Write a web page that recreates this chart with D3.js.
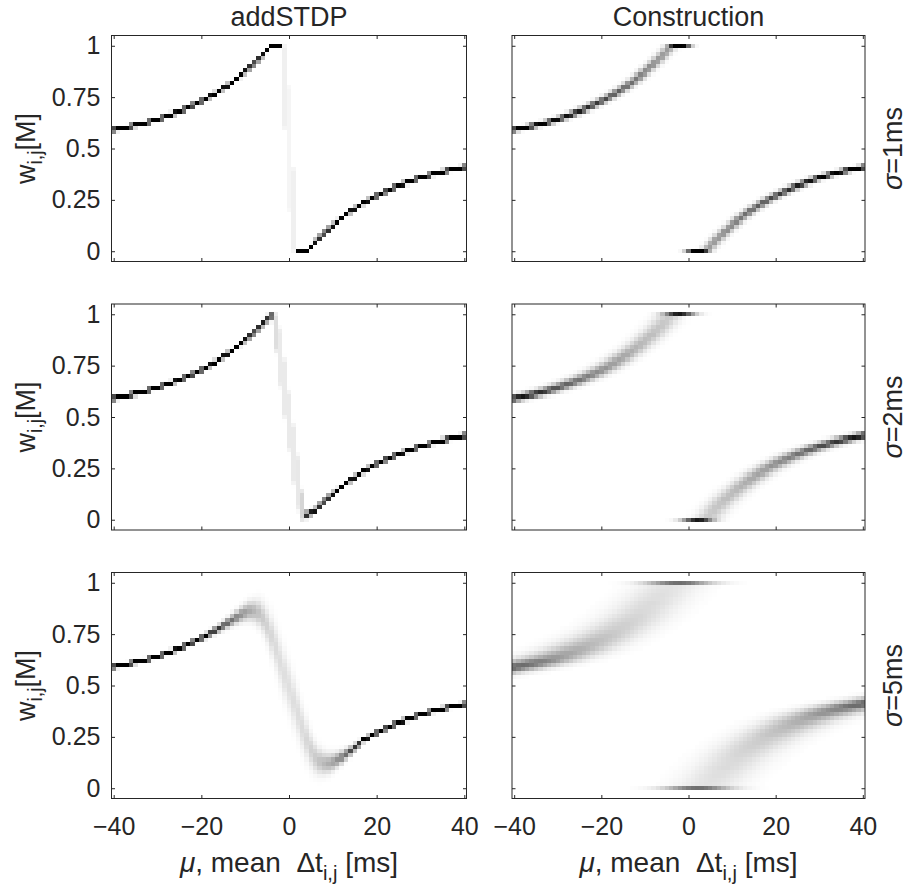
<!DOCTYPE html>
<html><head><meta charset="utf-8">
<script src="https://cdn.jsdelivr.net/npm/d3@7"></script>
<style>
body{margin:0;background:#fff}
text{font-family:"Liberation Sans",Arial,Helvetica,sans-serif;fill:#262626}
</style></head>
<body><svg id="chart" width="908" height="890"></svg>
<script>
// ---------------- data ----------------
const columnTitles = ["addSTDP", "Construction"];
const rowSigmas = [1, 2, 5];
const rowSigmaText = ["=1ms", "=2ms", "=5ms"];
const xTickValues = [-40, -20, 0, 20, 40];
const yTickValues = [0, 0.25, 0.5, 0.75, 1];
const yTickLabels = ["0", "0.25", "0.5", "0.75", "1"];
const muValues = d3.range(-40, 41);          // columns, 1 ms each
const wBinCenters = d3.range(0, 51).map(i => i * 0.02); // rows, 0.02 each

// fixed-point weight curve, Δt = -40 .. 0
const fUpper = [0.591,0.595,0.600,0.604,0.609,0.614,0.619,0.624,0.630,0.636,
  0.643,0.650,0.658,0.665,0.673,0.681,0.690,0.699,0.709,0.719,
  0.730,0.741,0.753,0.766,0.778,0.793,0.807,0.822,0.838,0.855,
  0.873,0.892,0.911,0.932,0.953,0.976,1.000,1.000,1.000,1.000,1.000];
// Δt = 0 .. 40
const fLower = [0.000,0.000,0.000,0.000,0.000,0.024,0.047,0.068,0.089,0.108,
  0.127,0.145,0.162,0.178,0.193,0.207,0.221,0.234,0.247,0.259,
  0.270,0.281,0.291,0.301,0.310,0.319,0.327,0.335,0.342,0.350,
  0.357,0.363,0.369,0.375,0.381,0.386,0.391,0.396,0.400,0.405,0.409];

// addSTDP: columns that leave the fixed-point curve (centre, half-width, blur)
const stdpMu1 = [-1, 0, 1];
const stdpW1 = [0.80, 0.50, 0.20];
const stdpHalf1 = [0.20, 0.30, 0.20];
const stdpSd1 = [0.005, 0.005, 0.005];

const stdpMu2 = [-6, -5, -4, -3, -2, -1, 0, 1, 2, 3, 4, 5];
const stdpW2 = [0.955, 0.975, 0.99, 0.91, 0.79, 0.64, 0.48, 0.32, 0.18, 0.07, 0.025, 0.035];
const stdpHalf2 = [0.005, 0.005, 0.005, 0.09, 0.14, 0.14, 0.14, 0.14, 0.13, 0.07, 0.005, 0.005];
const stdpSd2 = [0.006, 0.008, 0.01, 0.01, 0.01, 0.01, 0.01, 0.01, 0.01, 0.01, 0.008, 0.006];

const stdpMu5 = [-20,-19,-18,-17,-16,-15,-14,-13,-12,-11,-10,-9,-8,-7,-6,-5,-4,-3,-2,-1,
  0,1,2,3,4,5,6,7,8,9,10,11,12,13,14,15,16];
const stdpW5 = [0.730,0.741,0.753,0.766,0.778,0.791,0.805,0.819,0.832,0.845,0.855,0.862,0.862,0.852,0.828,0.790,0.740,0.680,0.615,0.550,
  0.490,0.425,0.360,0.295,0.235,0.185,0.150,0.130,0.122,0.122,0.128,0.138,0.150,0.165,0.180,0.198,0.214];
const stdpSd5 = [0.006,0.007,0.008,0.009,0.010,0.012,0.014,0.016,0.018,0.021,0.024,0.028,0.032,0.038,0.045,0.052,0.060,0.066,0.070,0.073,
  0.075,0.073,0.070,0.066,0.060,0.052,0.045,0.038,0.033,0.029,0.025,0.021,0.018,0.015,0.012,0.010,0.008];

const stdpOverrides = [
  {mu: stdpMu1, w: stdpW1, half: stdpHalf1, sd: stdpSd1},
  {mu: stdpMu2, w: stdpW2, half: stdpHalf2, sd: stdpSd2},
  {mu: stdpMu5, w: stdpW5, half: stdpMu5.map(() => 0), sd: stdpSd5}
];

// colour-scale upper limit per panel [row][column]
const panelVmax = [[0.85, 0.85], [0.85, 0.8], [0.85, 0.6]];

// ---------------- helpers ----------------
const BIN = 0.02, NB = wBinCenters.length;
function normCdf(x) {
  const z = Math.abs(x) / Math.SQRT2;
  const t = 1 / (1 + 0.3275911 * z);
  const e = 1 - (((((1.061405429 * t - 1.453152027) * t) + 1.421413741) * t - 0.284496736) * t + 0.254829592) * t * Math.exp(-z * z);
  return x >= 0 ? 0.5 * (1 + e) : 0.5 * (1 - e);
}
function fAt(t) {
  if (t < 0) {
    const p = t + 40;
    if (p <= 0) return fUpper[0] + p * (fUpper[1] - fUpper[0]);
    const i = Math.min(Math.floor(p), 39), r = p - i;
    return fUpper[i] + r * (fUpper[i + 1] - fUpper[i]);
  } else {
    const p = t;
    if (p >= 40) return fLower[40] + (p - 40) * (fLower[40] - fLower[39]);
    const i = Math.floor(p), r = p - i;
    return fLower[i] + r * (fLower[i + 1] - fLower[i]);
  }
}
function boxGaussColumn(c, h, s) {
  const col = new Array(NB).fill(0);
  const K = h > 0 ? 61 : 1;
  for (let k = 0; k < K; k++) {
    const u = K === 1 ? c : c - h + 2 * h * k / (K - 1);
    for (let b = 0; b < NB; b++) {
      const lo = b === 0 ? -Infinity : wBinCenters[b] - BIN / 2;
      const hi = b === NB - 1 ? Infinity : wBinCenters[b] + BIN / 2;
      const a = lo === -Infinity ? 0 : normCdf((lo - u) / s);
      const z = hi === Infinity ? 1 : normCdf((hi - u) / s);
      col[b] += (z - a) / K;
    }
  }
  return col;
}
function stdpMatrix(row) {
  const ov = stdpOverrides[row];
  return muValues.map(mu => {
    const j = ov.mu.indexOf(mu);
    if (j >= 0) return boxGaussColumn(ov.w[j], ov.half[j], ov.sd[j]);
    return boxGaussColumn(fAt(mu), 0.005, 0.001);
  });
}
function constructionMatrix(sigma) {
  const step = 0.02;
  return muValues.map(mu => {
    const col = new Array(NB).fill(0);
    for (let t = mu - 5 * sigma; t <= mu + 5 * sigma; t += step) {
      const wgt = Math.exp(-0.5 * ((t - mu) / sigma) ** 2) / (sigma * Math.sqrt(2 * Math.PI)) * step;
      let b = Math.round(fAt(t) / BIN);
      b = Math.max(0, Math.min(NB - 1, b));
      col[b] += wgt;
    }
    return col;
  });
}

// ---------------- layout ----------------
const svg = d3.select("#chart");
const colX = [[111.5, 466.5], [512, 865]];
const rowY = [[35.5, 261.5], [304, 530], [572.5, 798.5]];
const TICK_FS = 25, LABEL_FS = 28;

rowSigmas.forEach((sigma, r) => {
  [0, 1].forEach(c => {
    const [x0, x1] = colX[c], [y0, y1] = rowY[r];
    const x = d3.scaleLinear().domain([-40.5, 40.5]).range([x0, x1]);
    const y = d3.scaleLinear().domain([-0.05, 1.05]).range([y1, y0]);
    const shade = d3.scaleLinear().domain([0, panelVmax[r][c]]).range([255, 0]).clamp(true);
    const mat = c === 0 ? stdpMatrix(r) : constructionMatrix(sigma);
    const cells = [];
    mat.forEach((col, i) => col.forEach((v, b) => { if (v > 0.003) cells.push({mu: muValues[i], w: wBinCenters[b], v}); }));
    const g = svg.append("g");
    g.selectAll("rect.cell").data(cells).join("rect")
      .attr("class", "cell")
      .attr("x", d => x(d.mu - 0.5)).attr("width", x(1) - x(0))
      .attr("y", d => y(d.w + BIN / 2)).attr("height", y(0) - y(BIN))
      .attr("fill", d => { const v = Math.round(shade(d.v)); return `rgb(${v},${v},${v})`; })
      .attr("shape-rendering", "crispEdges");

    const tl = 3.5;
    const bottom = d3.axisBottom(x).tickValues(xTickValues).tickSize(-tl).tickPadding(19)
      .tickFormat(r === 2 ? d3.format("d") : () => "");
    const top = d3.axisTop(x).tickValues(xTickValues).tickSize(-tl).tickFormat(() => "");
    const left = d3.axisLeft(y).tickValues(yTickValues).tickSize(-tl).tickPadding(11)
      .tickFormat((d, i) => c === 0 ? yTickLabels[i] : "");
    const right = d3.axisRight(y).tickValues(yTickValues).tickSize(-tl).tickFormat(() => "");
    [[bottom, `translate(0,${y1})`], [top, `translate(0,${y0})`], [left, `translate(${x0},0)`], [right, `translate(${x1},0)`]]
      .forEach(([ax, tr]) => {
        const a = g.append("g").attr("transform", tr).call(ax);
        a.select(".domain").remove();
        a.selectAll("line").attr("stroke", "#262626").attr("stroke-width", 1);
        a.selectAll("text").attr("font-size", TICK_FS).attr("fill", "#262626")
          .attr("font-family", '"Liberation Sans",Arial,sans-serif');
      });
    g.append("rect").attr("x", x0).attr("y", y0).attr("width", x1 - x0).attr("height", y1 - y0)
      .attr("fill", "none").attr("stroke", "#262626").attr("stroke-width", 1);

    if (r === 0) {
      g.append("text").attr("x", (x0 + x1) / 2).attr("y", 26).attr("text-anchor", "middle")
        .attr("font-size", 27).text(columnTitles[c]);
    }
    if (c === 0) {
      const t = g.append("text").attr("transform", `translate(35,${(y0 + y1) / 2}) rotate(-90)`)
        .attr("text-anchor", "middle").attr("font-size", 27);
      t.append("tspan").text("w");
      t.append("tspan").attr("font-size", 27 * 0.72).attr("dy", 7).text("i,j");
      t.append("tspan").attr("dy", -7).text("[M]");
    }
    if (c === 1) {
      const t = g.append("text").attr("transform", `translate(902,${(y0 + y1) / 2}) rotate(-90)`)
        .attr("text-anchor", "middle").attr("font-size", 27);
      t.append("tspan").attr("font-style", "italic").text("σ");
      t.append("tspan").text(rowSigmaText[r]);
    }
    if (r === 2) {
      const t = g.append("text").attr("x", (x0 + x1) / 2).attr("y", 872)
        .attr("text-anchor", "middle").attr("font-size", LABEL_FS);
      t.append("tspan").attr("font-style", "italic").text("μ");
      t.append("tspan").text(", mean \u00a0Δt");
      t.append("tspan").attr("font-size", LABEL_FS * 0.72).attr("dy", 8).text("i,j");
      t.append("tspan").attr("dy", -8).text(" [ms]");
    }
  });
});
</script></body></html>
